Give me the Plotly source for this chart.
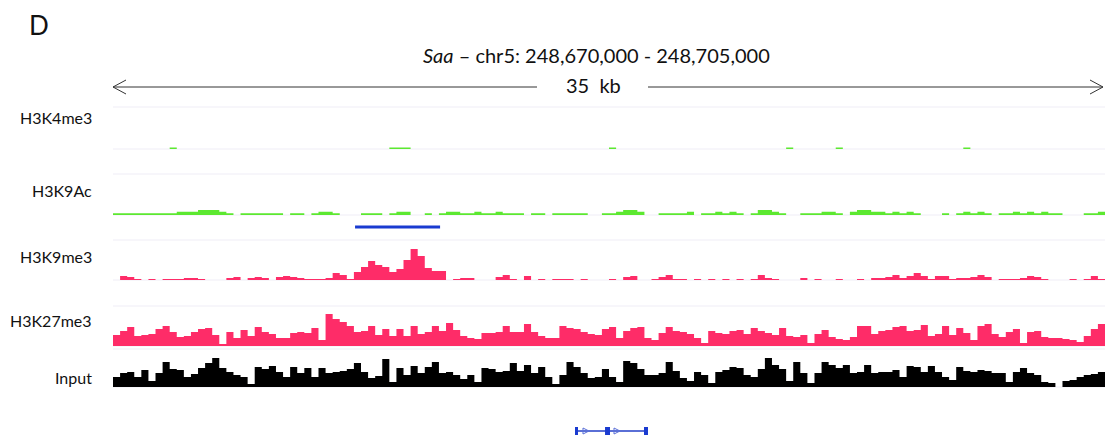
import plotly.graph_objects as go

# ---------------- data ----------------
GENE = "Saa"
CHROM = "chr5"
REGION_START = 248670000
REGION_END = 248705000
BIN_SIZE = 250
SCALE_LABEL = "35\u00a0 kb"

TRACK_NAMES = ["H3K4me3", "H3K9Ac", "H3K9me3", "H3K27me3", "Input"]

H3K4me3 = [0] * 140
for _i in (8, 39, 40, 41, 70, 95, 102, 120):
    H3K4me3[_i] = 1

H3K9Ac = [1,1,1,1,1,1,1,1,1,2, 2,2,3,3,3,2,1,0,1,1, 1,1,1,1,0,1,1,0,1,2,
          2,1,0,0,0,1,1,1,0,1, 2,2,0,0,1,0,1,2,2,1, 1,2,1,1,2,1,1,1,0,1,
          1,0,1,1,1,1,1,0,0,1, 1,2,3,3,2,0,0,1,1,1, 1,2,0,1,1,2,1,2,1,0,
          1,3,3,2,1,0,0,1,1,1, 2,2,1,0,2,3,3,2,2,1, 2,1,2,1,0,0,0,1,0,1,
          2,1,2,1,0,1,1,2,1,2, 1,2,1,1,0,0,0,1,1,2]

H3K9me3 = [0,4,3,1,0,1,0,1,1,1, 2,2,1,0,0,0,2,3,0,2, 3,2,0,3,4,3,2,1,1,1,
           2,7,5,1,8,13,19,15,13,8, 11,20,31,24,12,9,9,0,1,2, 2,0,0,0,3,5,1,0,4,0,
           1,0,1,1,1,0,1,0,0,0, 1,0,3,4,0,0,1,3,5,1, 1,0,1,0,1,0,1,0,1,0,
           1,5,2,1,0,0,0,2,0,1, 0,0,1,0,0,1,0,2,2,3, 5,2,4,7,4,1,4,4,1,2,
           2,3,5,3,0,1,1,1,2,4, 3,1,0,0,0,1,0,1,4,1]

H3K27me3 = [11,15,19,10,11,12,17,20,14,9, 10,14,17,18,11,2,14,8,16,10,
            19,14,12,8,8,13,14,13,18,6, 32,27,24,20,14,15,20,11,17,10,
            17,10,20,12,14,20,15,23,16,10, 8,7,13,13,14,20,14,14,22,14,
            10,8,8,20,18,17,14,12,11,17, 19,8,15,18,19,8,6,13,19,15,
            14,12,8,3,15,13,12,15,16,12, 18,15,13,11,18,10,9,11,3,12,
            16,9,7,6,9,20,20,12,15,16, 19,20,15,16,21,10,12,20,11,18,
            13,6,20,22,12,9,14,17,3,14, 15,9,8,8,7,6,4,10,17,22]

INPUT = [10,14,15,10,17,6,14,25,18,17, 10,13,19,24,29,19,15,12,10,3,
         20,18,21,15,10,20,14,19,10,19, 14,15,16,18,24,15,9,11,28,5,
         19,12,21,14,20,25,14,15,12,8, 12,5,19,18,15,16,24,16,22,14,
         20,10,3,12,25,20,14,9,10,18, 10,5,26,24,18,12,12,14,25,16,
         9,6,15,12,4,15,17,20,19,12, 10,18,29,22,18,6,25,14,4,14,
         25,22,19,22,14,15,22,14,15,15, 17,10,21,20,15,21,15,10,7,20,
         16,15,17,16,14,14,5,15,19,14, 12,5,4,0,6,7,10,12,13,15]

TRACK_VALUES = [H3K4me3, H3K9Ac, H3K9me3, H3K27me3, INPUT]

MARKED_REGION = [248678540, 248681540]
GENE_EXONS_START = [248686300, 248687360, 248688735]
GENE_EXONS_END = [248686406, 248687535, 248688876]
GENE_STRAND_MARKS = [248686794, 248687888]

# ---------------- style ----------------
W, H = 1105, 444
FONT = "Lato"
TRACK_COLORS = ["#5ce830", "#5ce830", "#fe2c68", "#fe2c68", "#000000"]
TRACK_ROWS = [(107, 149), (174, 215), (240, 280), (306, 346), (349, 387)]
TRACK_RANGES = [26, 25, 40, 40, 38]
LABEL_ROWS = [118, 190, 256, 320, 377]
X_LEFT = 113
BLUE = "#1a3bd0"


def px(x):
    return x / W


def py(y):
    return 1 - y / H


fig = go.Figure()

for k, (name, vals) in enumerate(zip(TRACK_NAMES, TRACK_VALUES)):
    yref = "y" if k == 0 else f"y{k + 1}"
    xs = [REGION_START + i * BIN_SIZE for i in range(len(vals) + 1)]
    ys = list(vals) + [vals[-1]]
    fig.add_trace(go.Scatter(
        x=xs, y=ys, mode="lines", line=dict(width=0, shape="hv"),
        fill="tozeroy", fillcolor=TRACK_COLORS[k], name=name,
        xaxis="x", yaxis=yref, hoverinfo="skip", showlegend=False))

fig.add_trace(go.Scatter(x=MARKED_REGION, y=[0.5, 0.5], mode="lines",
                         line=dict(color=BLUE, width=3), xaxis="x", yaxis="y6",
                         showlegend=False, hoverinfo="skip"))

fig.add_trace(go.Scatter(x=[GENE_EXONS_START[0], GENE_EXONS_END[-1]], y=[0.5, 0.5],
                         mode="lines", line=dict(color="#5a6fd6", width=2),
                         xaxis="x", yaxis="y7", showlegend=False, hoverinfo="skip"))
ex_x, ex_y = [], []
for s, e in zip(GENE_EXONS_START, GENE_EXONS_END):
    ex_x += [s, e, None]
    ex_y += [0.5, 0.5, None]
fig.add_trace(go.Scatter(x=ex_x, y=ex_y, mode="lines",
                         line=dict(color=BLUE, width=8), xaxis="x", yaxis="y7",
                         showlegend=False, hoverinfo="skip"))
fig.add_trace(go.Scatter(x=GENE_STRAND_MARKS, y=[0.5] * len(GENE_STRAND_MARKS),
                         mode="markers",
                         marker=dict(symbol="arrow-right-open", size=6,
                                     color="#5a6fd6", line=dict(width=1, color="#5a6fd6")),
                         xaxis="x", yaxis="y7", showlegend=False, hoverinfo="skip"))

layout = dict(
    width=W, height=H, margin=dict(l=0, r=0, t=0, b=0),
    paper_bgcolor="white", plot_bgcolor="white", showlegend=False,
    xaxis=dict(domain=[px(X_LEFT), 1], range=[REGION_START, REGION_END],
               visible=False, fixedrange=True, anchor="y"),
)
for k, (top, bot) in enumerate(TRACK_ROWS):
    key = "yaxis" if k == 0 else f"yaxis{k + 1}"
    layout[key] = dict(domain=[py(bot), py(top)], range=[0, TRACK_RANGES[k]],
                       visible=False, fixedrange=True, anchor="x")
layout["yaxis6"] = dict(domain=[py(234), py(220)], range=[0, 1], visible=False,
                        fixedrange=True, anchor="x")
layout["yaxis7"] = dict(domain=[py(442), py(420)], range=[0, 1], visible=False,
                        fixedrange=True, anchor="x")
fig.update_layout(**layout)

shapes = []
for top, bot in TRACK_ROWS:
    for yy in (top, bot):
        shapes.append(dict(type="line", xref="paper", yref="paper",
                           x0=px(X_LEFT), x1=1, y0=py(yy), y1=py(yy),
                           line=dict(color="#efedf6", width=1), layer="below"))
AY = 87
shapes.append(dict(type="line", xref="paper", yref="paper", x0=px(113), x1=px(537),
                   y0=py(AY), y1=py(AY), line=dict(color="#333333", width=1)))
shapes.append(dict(type="line", xref="paper", yref="paper", x0=px(648), x1=px(1103),
                   y0=py(AY), y1=py(AY), line=dict(color="#333333", width=1)))
shapes.append(dict(type="path", xref="paper", yref="paper",
                   path=f"M {px(126)} {py(80)} L {px(113)} {py(AY)} L {px(126)} {py(94)}",
                   line=dict(color="#333333", width=1)))
shapes.append(dict(type="path", xref="paper", yref="paper",
                   path=f"M {px(1090)} {py(80)} L {px(1103)} {py(AY)} L {px(1090)} {py(94)}",
                   line=dict(color="#333333", width=1)))
fig.update_layout(shapes=shapes)

ann = []
ann.append(dict(text="D", x=px(27), y=py(25), xref="paper", yref="paper",
                xanchor="left", yanchor="middle", showarrow=False,
                font=dict(family=FONT, size=26, color="#111111")))
ann.append(dict(text=f"<i>{GENE}</i> \u2013 {CHROM}: {REGION_START:,} - {REGION_END:,}",
                x=px(596), y=py(55), xref="paper", yref="paper",
                xanchor="center", yanchor="middle", showarrow=False,
                font=dict(family=FONT, size=20, color="#111111")))
ann.append(dict(text=SCALE_LABEL, x=px(593), y=py(85), xref="paper", yref="paper",
                xanchor="center", yanchor="middle", showarrow=False,
                font=dict(family=FONT, size=20, color="#111111")))
for name, ly in zip(TRACK_NAMES, LABEL_ROWS):
    ann.append(dict(text=name, x=px(94), y=py(ly), xref="paper", yref="paper",
                    xanchor="right", yanchor="middle", showarrow=False,
                    font=dict(family=FONT, size=16, color="#111111")))
fig.update_layout(annotations=ann)

fig.write_html("out.html", config={"displayModeBar": False},
               post_script="document.body.style.margin='0';document.body.style.overflow='hidden';")
